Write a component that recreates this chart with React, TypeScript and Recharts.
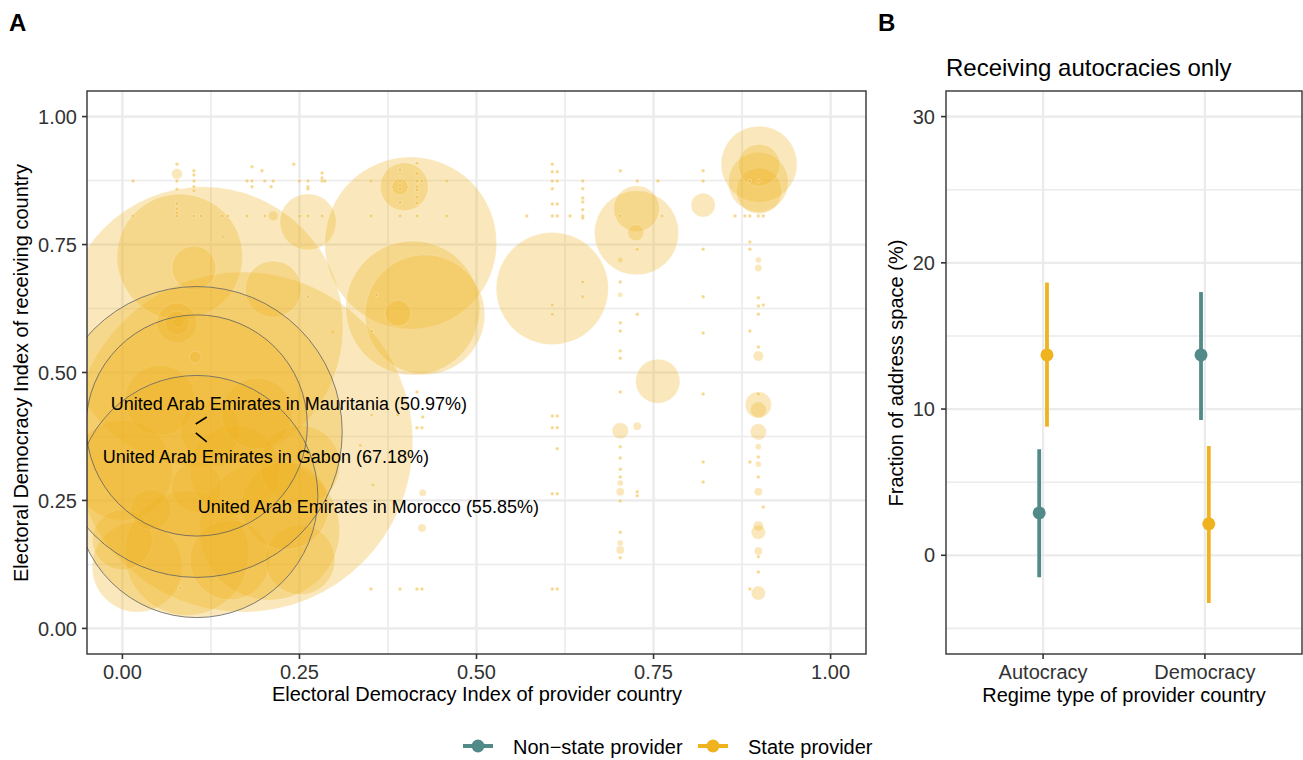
import React from "react";
import { ScatterChart, Scatter, XAxis, YAxis, CartesianGrid, ErrorBar } from "recharts";

const FONT = '"Liberation Sans", Arial, Helvetica, sans-serif';
const GOLD = "#EFB320";
const TEAL = "#518A88";
const GRID = "#EBEBEB";
const DARK = "#333333";

// ---------- Panel A data: [provider EDI, receiver EDI, share of address space (%)] ----------
const largeBubbles: [number, number, number][] = [
  [0.170, 0.364, 78.6], [0.114, 0.589, 64.7], [0.081, 0.726, 28.8], [0.101, 0.704, 9.8],
  [0.213, 0.663, 12.6], [0.262, 0.794, 12.6], [0.407, 0.753, 39.5], [0.410, 0.626, 30.7],
  [0.427, 0.613, 27.4], [0.389, 0.616, 5.6], [0.398, 0.863, 10.7], [0.392, 0.863, 3.3],
  [0.607, 0.664, 25.6], [0.726, 0.773, 19.1], [0.726, 0.820, 10.2], [0.725, 0.773, 3.3],
  [0.820, 0.827, 5.1], [0.899, 0.907, 17.2], [0.898, 0.872, 13.5], [0.899, 0.855, 10.2],
  [0.899, 0.905, 9.3], [0.756, 0.483, 9.8], [0.703, 0.386, 3.3], [0.727, 0.395, 1.4],
];

const columnBubbles: [number, number, number][] = [
  [0.898, 0.437, 5.6], [0.898, 0.427, 3.3], [0.898, 0.384, 3.3], [0.898, 0.188, 2.8],
  [0.898, 0.200, 1.9], [0.898, 0.069, 2.8], [0.898, 0.151, 1.4], [0.898, 0.267, 1.4],
  [0.898, 0.532, 1.9], [0.703, 0.267, 1.4], [0.703, 0.153, 1.4], [0.703, 0.652, 0.7],
  [0.213, 0.806, 1.9], [0.077, 0.888, 2.0], [0.103, 0.530, 2.3], [0.142, 0.765, 0.5],
  [0.423, 0.196, 1.4], [0.424, 0.265, 1.2], [0.297, 0.579, 0.7], [0.898, 0.720, 0.9],
  [0.898, 0.704, 1.2], [0.898, 0.355, 0.9], [0.898, 0.321, 0.9], [0.703, 0.720, 0.9],
  [0.703, 0.284, 0.9], [0.703, 0.167, 0.9],
];

const clusterBubbles: [number, number, number][] = [
  [0.208, 0.192, 32.1], [0.021, 0.120, 20.5], [0.091, 0.147, 28.4], [0.000, 0.309, 22.8],
  [0.077, 0.597, 8.8], [0.077, 0.597, 5.1], [0.079, 0.599, 2.3], [0.159, 0.309, 20.5],
  [0.251, 0.319, 18.1], [0.053, 0.446, 15.8], [0.152, 0.134, 18.1], [0.251, 0.134, 15.8],
  [0.000, 0.173, 13.5], [0.105, 0.276, 11.2], [0.124, 0.388, 13.5], [0.040, 0.232, 8.8],
  [0.190, 0.420, 16.0], [0.230, 0.240, 20.0],
];

const topRowX = [0.015, 0.077, 0.101, 0.176, 0.183, 0.201, 0.213, 0.250, 0.262, 0.282, 0.286, 0.351,
  0.392, 0.416, 0.423, 0.458, 0.607, 0.614, 0.650, 0.727, 0.756, 0.820, 0.886, 0.898];
const secondRowX = [0.015, 0.077, 0.101, 0.111, 0.141, 0.149, 0.176, 0.201, 0.250, 0.262, 0.282, 0.351,
  0.392, 0.416, 0.458, 0.571, 0.607, 0.614, 0.632, 0.650, 0.703, 0.762, 0.865, 0.879, 0.886, 0.898, 0.905];
const TOP_ROW_Y = 0.874;
const SECOND_ROW_Y = 0.806;

const scatteredDots: [number, number][] = [
  [0.077, 0.907], [0.077, 0.858], [0.077, 0.830], [0.077, 0.820], [0.077, 0.812],
  [0.101, 0.894], [0.101, 0.886], [0.101, 0.863], [0.101, 0.855],
  [0.392, 0.896], [0.392, 0.859], [0.392, 0.832],
  [0.416, 0.909], [0.416, 0.889], [0.416, 0.863], [0.416, 0.857], [0.416, 0.843], [0.416, 0.831],
  [0.282, 0.890], [0.282, 0.880], [0.183, 0.902], [0.197, 0.894], [0.242, 0.907], [0.210, 0.863],
  [0.183, 0.863], [0.262, 0.863], [0.262, 0.859],
  [0.607, 0.907], [0.607, 0.892], [0.607, 0.859], [0.607, 0.829], [0.607, 0.632], [0.607, 0.614],
  [0.607, 0.415], [0.607, 0.392], [0.607, 0.263], [0.607, 0.077],
  [0.614, 0.415], [0.614, 0.392], [0.614, 0.351], [0.614, 0.263], [0.614, 0.077], [0.614, 0.892], [0.614, 0.829],
  [0.650, 0.859], [0.650, 0.841], [0.650, 0.833], [0.650, 0.818], [0.650, 0.802], [0.650, 0.677], [0.650, 0.648],
  [0.703, 0.894], [0.703, 0.677], [0.703, 0.597], [0.703, 0.581], [0.703, 0.542], [0.703, 0.528],
  [0.703, 0.462], [0.703, 0.355], [0.703, 0.333], [0.703, 0.311], [0.703, 0.296], [0.703, 0.249],
  [0.703, 0.188], [0.703, 0.138],
  [0.727, 0.741], [0.727, 0.614], [0.727, 0.267], [0.727, 0.259],
  [0.820, 0.894], [0.820, 0.741], [0.820, 0.648], [0.820, 0.577], [0.820, 0.458], [0.820, 0.325], [0.820, 0.286],
  [0.886, 0.755], [0.886, 0.741], [0.886, 0.581], [0.886, 0.325], [0.886, 0.077],
  [0.898, 0.646], [0.898, 0.630], [0.898, 0.614], [0.898, 0.550], [0.898, 0.458], [0.898, 0.335],
  [0.898, 0.296], [0.898, 0.140], [0.898, 0.110], [0.905, 0.237], [0.905, 0.632],
  [0.351, 0.077], [0.392, 0.077], [0.416, 0.077], [0.423, 0.077],
  [0.352, 0.417], [0.389, 0.417], [0.424, 0.413], [0.416, 0.392], [0.423, 0.392], [0.336, 0.358],
  [0.354, 0.280], [0.416, 0.462], [0.359, 0.652], [0.352, 0.581], [0.262, 0.648], [0.082, 0.079],
];
const DOT_PCT = 0.35;
// several dyads share the same (provider EDI, receiver EDI) position
const DYADS_PER_DOT = [1, 2];

const highlightLabels = [
  "United Arab Emirates in Mauritania (50.97%)",
  "United Arab Emirates in Gabon (67.18%)",
  "United Arab Emirates in Morocco (55.85%)",
];
const highlightBubbles: [number, number, number][] = [
  [0.105, 0.3965, 50.97],
  [0.105, 0.3838, 67.18],
  [0.105, 0.2577, 55.85],
];

// ---------- Panel B data ----------
const regimeTypes = ["Autocracy", "Democracy"];
const nonStateEstimate = [2.9, 13.7];
const nonStateLower = [-1.5, 9.25];
const nonStateUpper = [7.25, 18.0];
const stateEstimate = [13.7, 2.15];
const stateLower = [8.8, -3.27];
const stateUpper = [18.65, 7.47];
const seriesNames = ["Non\u2212state provider", "State provider"];

// ---------- styling / scales ----------
const R_MIN = 1;
const R_PER_PCT = 2.15;
const DODGE = 0.024;
const LABEL_LAYOUT = [
  { dx: -86, dy: -15.5, seg: [-1, -1.5, 10, -8.5] },
  { dx: -94, dy: 31, seg: [-1, 1, 10, 10] },
  { dx: 1, dy: 16.5, seg: null as null | number[] },
];

const toPoint = ([x, y, pct]: [number, number, number]) => ({ x, y, pct });
const dotPoints = [
  ...topRowX.map((x) => ({ x, y: TOP_ROW_Y, pct: DOT_PCT })),
  ...secondRowX.map((x) => ({ x, y: SECOND_ROW_Y, pct: DOT_PCT })),
  ...scatteredDots.map(([x, y]) => ({ x, y, pct: DOT_PCT })),
];
const bubbleData = [
  ...largeBubbles.map(toPoint),
  ...clusterBubbles.map(toPoint),
  ...highlightBubbles.map(toPoint),
  ...columnBubbles.map(toPoint),
  ...DYADS_PER_DOT.flatMap(() => dotPoints),
];
const highlightData = highlightBubbles.map((b, i) => ({ ...toPoint(b), idx: i, label: highlightLabels[i] }));

const nonStateData = regimeTypes.map((_, i) => ({
  x: i + 1 - DODGE,
  y: nonStateEstimate[i],
  err: [nonStateEstimate[i] - nonStateLower[i], nonStateUpper[i] - nonStateEstimate[i]],
}));
const stateData = regimeTypes.map((_, i) => ({
  x: i + 1 + DODGE,
  y: stateEstimate[i],
  err: [stateEstimate[i] - stateLower[i], stateUpper[i] - stateEstimate[i]],
}));

const Bubble = (p: any) => {
  if (p.cx == null || p.cy == null) return <g />;
  const r = R_MIN + R_PER_PCT * (p.payload?.pct ?? 0);
  return (
    <circle cx={p.cx} cy={p.cy} r={r} fill={GOLD} fillOpacity={0.3}
      stroke="#FFFFFF" strokeOpacity={0.35} strokeWidth={0.6} />
  );
};

const Outline = (p: any) => {
  if (p.cx == null || p.cy == null) return <g />;
  const r = R_MIN + R_PER_PCT * (p.payload?.pct ?? 0);
  return <circle cx={p.cx} cy={p.cy} r={r} fill="none" stroke="#555555" strokeOpacity={0.75} strokeWidth={1} />;
};

const HighlightLabel = (p: any) => {
  if (p.cx == null || p.cy == null) return <g />;
  const lay = LABEL_LAYOUT[p.payload.idx];
  return (
    <g>
      {lay.seg && (
        <line x1={p.cx + lay.seg[0]} y1={p.cy + lay.seg[1]} x2={p.cx + lay.seg[2]} y2={p.cy + lay.seg[3]}
          stroke="#000" strokeWidth={1.6} />
      )}
      <text x={p.cx + lay.dx} y={p.cy + lay.dy} fontSize={18} fontFamily={FONT} fill="#000">
        {p.payload.label}
      </text>
    </g>
  );
};

const Dot = (color: string) => (p: any) => {
  if (p.cx == null || p.cy == null) return <g />;
  return <circle cx={p.cx} cy={p.cy} r={6.5} fill={color} />;
};

const tickStyle = { fontSize: 20, fill: DARK, fontFamily: FONT };
const gridMinorA = [0, 0.125, 0.25, 0.375, 0.5, 0.625, 0.75, 0.875, 1];
const ticksA = [0, 0.25, 0.5, 0.75, 1];
const ticksB = [0, 10, 20, 30];
const gridMinorB = [-5, 0, 5, 10, 15, 20, 25, 30];

export default function App() {
  return (
    <div style={{ position: "absolute", left: 0, top: 0, width: 1303, height: 760, background: "#fff", overflow: "hidden" }}>
      <div style={{ position: "absolute", left: 0, top: 0 }}>
        <ScatterChart width={870} height={710} margin={{ top: 91, right: 4, bottom: 6, left: 0 }}>
          <CartesianGrid stroke={GRID} strokeWidth={1.6} verticalValues={gridMinorA} horizontalValues={gridMinorA} />
          <CartesianGrid stroke={GRID} strokeWidth={2.2} verticalValues={ticksA} horizontalValues={ticksA} />
          <XAxis type="number" dataKey="x" domain={[-0.05, 1.05]} ticks={ticksA} allowDataOverflow
            tickFormatter={(v: number) => v.toFixed(2)} height={50} axisLine={false}
            tickLine={{ stroke: DARK, strokeWidth: 1.6 }} tickSize={5} tickMargin={6} tick={tickStyle} />
          <YAxis type="number" dataKey="y" domain={[-0.05, 1.05]} ticks={ticksA} allowDataOverflow
            tickFormatter={(v: number) => v.toFixed(2)} width={87} axisLine={false}
            tickLine={{ stroke: DARK, strokeWidth: 1.6 }} tickSize={5} tickMargin={5} tick={tickStyle} />
          <Scatter data={bubbleData} shape={Bubble} isAnimationActive={false} />
          <Scatter data={highlightData} shape={Outline} isAnimationActive={false} />
          <Scatter data={highlightData} shape={HighlightLabel} isAnimationActive={false} />
        </ScatterChart>
      </div>
      <div style={{ position: "absolute", left: 880, top: 0 }}>
        <ScatterChart width={423} height={710} margin={{ top: 91, right: 1, bottom: 6, left: 0 }}>
          <CartesianGrid stroke={GRID} strokeWidth={1.6} verticalValues={[1, 2]} horizontalValues={gridMinorB} />
          <CartesianGrid stroke={GRID} strokeWidth={2.2} verticalValues={[1, 2]} horizontalValues={ticksB} />
          <XAxis type="number" dataKey="x" domain={[0.4, 2.6]} ticks={[1, 2]} allowDataOverflow
            tickFormatter={(v: number) => regimeTypes[Math.round(v) - 1] ?? ""} height={50} axisLine={false}
            tickLine={{ stroke: DARK, strokeWidth: 1.6 }} tickSize={5} tickMargin={6} tick={tickStyle} />
          <YAxis type="number" dataKey="y" domain={[-6.75, 31.75]} ticks={ticksB} allowDataOverflow width={66}
            axisLine={false} tickLine={{ stroke: DARK, strokeWidth: 1.6 }} tickSize={5} tickMargin={6} tick={tickStyle} />
          <Scatter data={nonStateData} shape={Dot(TEAL)} isAnimationActive={false}>
            <ErrorBar dataKey="err" direction="y" width={0} strokeWidth={3.8} stroke={TEAL} />
          </Scatter>
          <Scatter data={stateData} shape={Dot(GOLD)} isAnimationActive={false}>
            <ErrorBar dataKey="err" direction="y" width={0} strokeWidth={3.8} stroke={GOLD} />
          </Scatter>
        </ScatterChart>
      </div>
      <svg width={1303} height={760} style={{ position: "absolute", left: 0, top: 0, pointerEvents: "none" }}
        fontFamily={FONT}>
        <rect x={87} y={91} width={779} height={563} fill="none" stroke={DARK} strokeWidth={1.4} />
        <rect x={946} y={91} width={356} height={563} fill="none" stroke={DARK} strokeWidth={1.4} />
        <text x={9} y={31} fontSize={24} fontWeight="bold" fill="#000">A</text>
        <text x={878} y={31} fontSize={24} fontWeight="bold" fill="#000">B</text>
        <text x={946} y={76} fontSize={24} fill="#000">Receiving autocracies only</text>
        <text x={477} y={701} fontSize={20} textAnchor="middle" fill="#000">Electoral Democracy Index of provider country</text>
        <text x={1124} y={702} fontSize={20} textAnchor="middle" fill="#000">Regime type of provider country</text>
        <text x={28} y={373} fontSize={20} textAnchor="middle" fill="#000" transform="rotate(-90 28 373)">
          Electoral Democracy Index of receiving country
        </text>
        <text x={903} y={373} fontSize={20} textAnchor="middle" fill="#000" transform="rotate(-90 903 373)">
          Fraction of address space (%)
        </text>
        <line x1={463} y1={746} x2={493} y2={746} stroke={TEAL} strokeWidth={4} />
        <circle cx={478} cy={746} r={6.5} fill={TEAL} />
        <text x={513} y={754} fontSize={20} fill="#000">{seriesNames[0]}</text>
        <line x1={698} y1={746} x2={728} y2={746} stroke={GOLD} strokeWidth={4} />
        <circle cx={713} cy={746} r={6.5} fill={GOLD} />
        <text x={748} y={754} fontSize={20} fill="#000">{seriesNames[1]}</text>
      </svg>
    </div>
  );
}
